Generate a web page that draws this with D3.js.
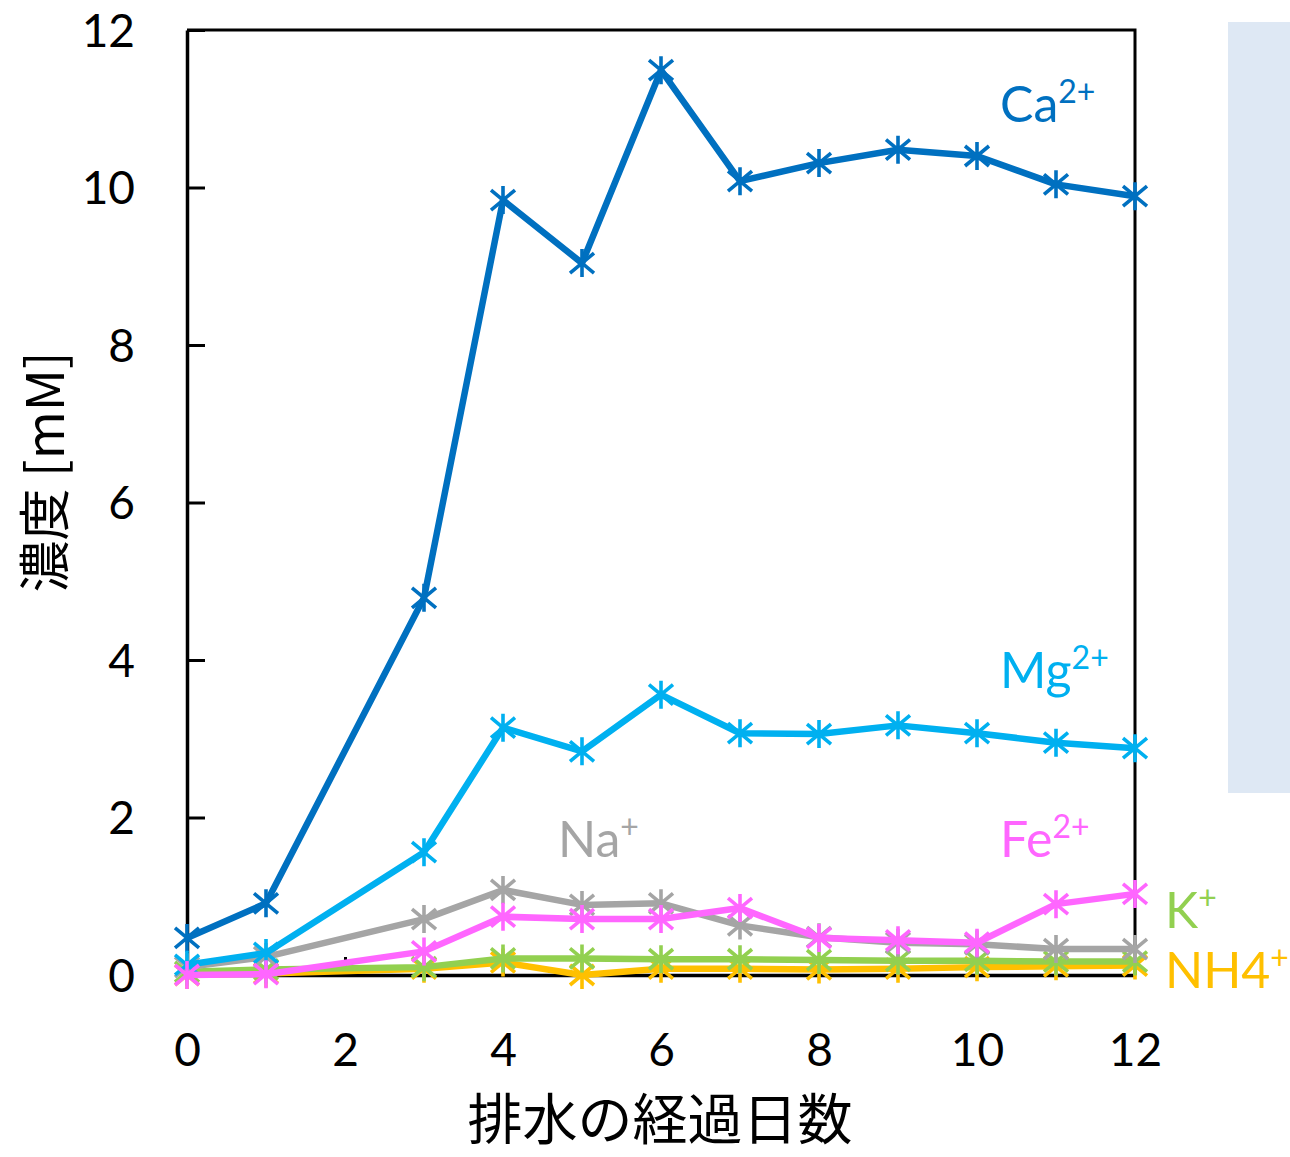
<!DOCTYPE html>
<html>
<head>
<meta charset="utf-8">
<script src="https://cdn.jsdelivr.net/npm/d3@7"></script>
<style>
  html, body { margin: 0; padding: 0; background: #fff; }
  svg { display: block; }
  text { font-family: Lato, "Open Sans", "Noto Sans CJK JP", sans-serif; }
</style>
</head>
<body>
<svg id="chart" width="1290" height="1157"></svg>
<script>
// Days since drainage started (no sample on day 2)
const days = [0, 1, 3, 4, 5, 6, 7, 8, 9, 10, 11, 12];

// Ion concentrations in mM
const ca  = [0.47, 0.91, 4.79, 9.84, 9.04, 11.49, 10.08, 10.31, 10.48, 10.40, 10.04, 9.89];
const mg  = [0.13, 0.28, 1.56, 3.14, 2.84, 3.56, 3.07, 3.06, 3.17, 3.07, 2.95, 2.88];
const na  = [0.10, 0.23, 0.71, 1.08, 0.89, 0.91, 0.63, 0.48, 0.41, 0.39, 0.33, 0.33];
const fe  = [0.00, 0.01, 0.30, 0.74, 0.71, 0.71, 0.85, 0.47, 0.44, 0.41, 0.90, 1.03];
const k   = [0.04, 0.07, 0.10, 0.21, 0.21, 0.20, 0.20, 0.19, 0.18, 0.18, 0.17, 0.17];
const nh4 = [0.00, 0.02, 0.08, 0.16, 0.00, 0.08, 0.08, 0.07, 0.08, 0.10, 0.11, 0.12];

const xTicks = [0, 2, 4, 6, 8, 10, 12];
const yTicks = [0, 2, 4, 6, 8, 10, 12];

// Series in drawing order (later ones on top)
const series = [
  { name: "NH4", sup: "+",  values: nh4, color: "#FFC000", lx: 1165, ly: 988 },
  { name: "K",   sup: "+",  values: k,   color: "#92D050", lx: 1165, ly: 928 },
  { name: "Na",  sup: "+",  values: na,  color: "#A5A5A5", lx: 558,  ly: 857 },
  { name: "Ca",  sup: "2+", values: ca,  color: "#0070C0", lx: 1000, ly: 122 },
  { name: "Mg",  sup: "2+", values: mg,  color: "#00B0F0", lx: 1000, ly: 688 },
  { name: "Fe",  sup: "2+", values: fe,  color: "#FF66FF", lx: 1000, ly: 857 }
];

const svg = d3.select("#chart");
const plot = { left: 187, right: 1135, top: 30, bottom: 975 };

const x = d3.scaleLinear().domain([0, 12]).range([plot.left, plot.right]);
const y = d3.scaleLinear().domain([0, 12]).range([plot.bottom, plot.top]);

// Light panel on the right edge
svg.append("rect")
  .attr("x", 1228).attr("y", 22)
  .attr("width", 62).attr("height", 771)
  .attr("fill", "#DEE8F4");

// Frame top and right
svg.append("path")
  .attr("d", `M${plot.left},${plot.top}H${plot.right}V${plot.bottom}`)
  .attr("fill", "none").attr("stroke", "#000").attr("stroke-width", 3);

// Y axis with inward ticks
const yAxis = svg.append("g")
  .attr("transform", `translate(${plot.left},0)`)
  .call(d3.axisLeft(y).tickValues(yTicks).tickSizeInner(-18).tickSizeOuter(0).tickPadding(52));
yAxis.select(".domain").attr("stroke-width", 3.5);
yAxis.selectAll(".tick line").attr("stroke-width", 3);
yAxis.selectAll(".tick text")
  .attr("font-size", 46).attr("fill", "#000").attr("dy", "0.35em")
  .style("font-family", "Lato, 'Open Sans', sans-serif");

// X axis with inward ticks
const xAxis = svg.append("g")
  .attr("transform", `translate(0,${plot.bottom})`)
  .call(d3.axisBottom(x).tickValues(xTicks).tickSizeInner(-18).tickSizeOuter(0).tickPadding(58));
xAxis.select(".domain").attr("stroke-width", 3.5);
xAxis.selectAll(".tick line").attr("stroke-width", 3);
xAxis.selectAll(".tick text")
  .attr("font-size", 46).attr("fill", "#000").attr("dy", "0.71em")
  .style("font-family", "Lato, 'Open Sans', sans-serif");

// Axis titles
svg.append("text")
  .attr("x", 660).attr("y", 1139)
  .attr("text-anchor", "middle")
  .attr("font-size", 55)
  .style("font-family", "'Noto Sans CJK JP', sans-serif")
  .text("排水の経過日数");

svg.append("text")
  .attr("transform", "translate(64,472) rotate(-90)")
  .attr("text-anchor", "middle")
  .attr("font-size", 52)
  .style("font-family", "'Noto Sans CJK JP', sans-serif")
  .text("濃度 [mM]");

// Lines and star markers
const line = d3.line().x((d, i) => x(days[i])).y(d => y(d));
const star = "M-12,-10L12,10M-12,10L12,-10M0,-14V14";

series.forEach(s => {
  const g = svg.append("g");
  g.append("path")
    .attr("d", line(s.values))
    .attr("fill", "none")
    .attr("stroke", s.color)
    .attr("stroke-width", 6.5)
    .attr("stroke-linejoin", "round");
  g.selectAll("path.mk")
    .data(s.values)
    .join("path")
    .attr("class", "mk")
    .attr("d", star)
    .attr("transform", (d, i) => `translate(${x(days[i])},${y(d)})`)
    .attr("fill", "none")
    .attr("stroke", s.color)
    .attr("stroke-width", 3.6);
});

// Series labels with superscript charges
series.forEach(s => {
  const t = svg.append("text")
    .attr("x", s.lx).attr("y", s.ly)
    .attr("font-size", 50)
    .attr("fill", s.color);
  t.append("tspan").text(s.name);
  t.append("tspan")
    .attr("font-size", 32)
    .attr("dy", -19)
    .text(s.sup);
});
</script>
</body>
</html>
